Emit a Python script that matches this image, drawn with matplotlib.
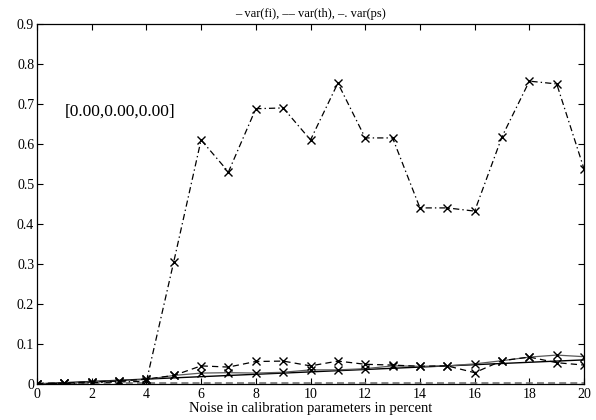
import numpy as np
import matplotlib.pyplot as plt

plt.rcParams['font.family'] = ['Liberation Serif', 'DejaVu Serif']
plt.rcParams['lines.scale_dashes'] = False

noise = list(range(21))

# measured variances
var_fi = [0.0, 0.002, 0.005, 0.008, 0.011, 0.021, 0.027, 0.028, 0.027, 0.029, 0.035,
          0.035, 0.038, 0.045, 0.044, 0.045, 0.050, 0.058, 0.067, 0.072, 0.068]
var_th = [0.0, 0.002, 0.005, 0.007, 0.012, 0.021, 0.045, 0.042, 0.056, 0.057, 0.045,
          0.057, 0.049, 0.047, 0.044, 0.045, 0.028, 0.058, 0.067, 0.053, 0.047]
var_ps = [0.0, 0.001, 0.003, 0.005, 0.006, 0.305, 0.61, 0.53, 0.688, 0.69, 0.61,
          0.752, 0.615, 0.615, 0.44, 0.44, 0.432, 0.618, 0.757, 0.75, 0.537]

# reference (theoretical) curves
ref_fi = [0.0, 0.003, 0.006, 0.009, 0.012, 0.015, 0.018, 0.021, 0.024, 0.027, 0.030,
          0.033, 0.036, 0.039, 0.042, 0.045, 0.048, 0.051, 0.054, 0.057, 0.060]
ref_th = [0.003] * 21

fig = plt.figure(figsize=(5.96, 4.2), dpi=100)
ax = fig.add_axes([0.062, 0.086, 0.918, 0.857])

ax.plot(noise, ref_th, color='0.45', lw=1.2, dashes=(5, 3))
ax.plot(noise, ref_fi, '-', color='black', lw=1.0)
ax.plot(noise, var_fi, '-x', color='0.35', lw=0.9, ms=6, mec='black')
ax.plot(noise, var_th, '-x', color='black', lw=0.9, ms=6, dashes=(4.5, 3))
ax.plot(noise, var_ps, '-x', color='black', lw=0.9, ms=6, dashes=(4.5, 2.2, 1, 2.2))

ax.set_xlim(0, 20)
ax.set_ylim(0, 0.9)
ax.set_xticks(range(0, 21, 2))
ax.set_yticks(np.arange(0, 0.91, 0.1))
ax.set_yticklabels(['0'] + ['%.1f' % v for v in np.arange(0.1, 0.91, 0.1)])
ax.tick_params(direction='in', top=True, right=True, labelsize=10, length=4, pad=2)
ax.tick_params(axis='x', pad=3)
for s in ax.spines.values():
    s.set_linewidth(0.9)

ax.set_title('\u2013 var(fi), \u2013\u2013 var(th), \u2013. var(ps)', fontsize=9, pad=5)
ax.set_xlabel('Noise in calibration parameters in percent', fontsize=10.5, labelpad=0.5)
ax.text(1.0, 0.68, '[0.00,0.00,0.00]', fontsize=12.5, va='center', ha='left')

fig.savefig('out.png', dpi=100)
